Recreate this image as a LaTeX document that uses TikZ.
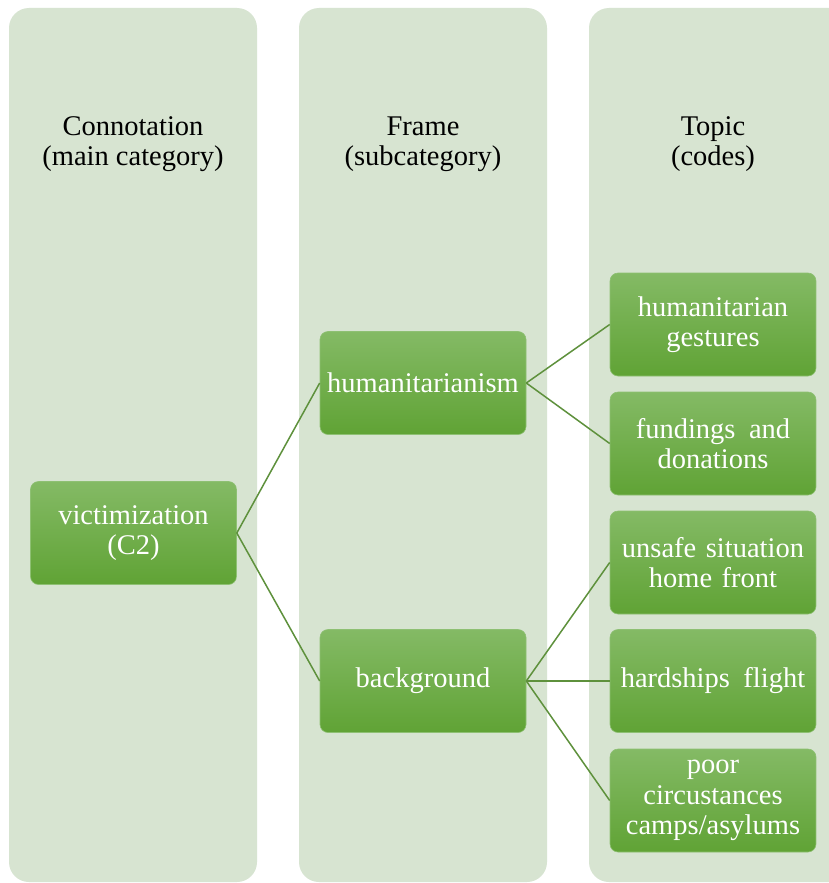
\documentclass[tikz,border=0pt]{standalone}
\usepackage{fontspec}
\setmainfont{Liberation Serif}
\definecolor{colfill}{HTML}{D7E4D1}
\definecolor{boxtop}{HTML}{84BA65}
\definecolor{boxbot}{HTML}{60A335}
\definecolor{boxedge}{HTML}{8EC073}
\definecolor{linkcol}{HTML}{5E913C}
\newcommand{\wsp}{\hspace{4pt}}
\begin{document}
\begin{tikzpicture}[x=1pt,y=-1pt,
  column/.style={fill=colfill,draw=none,rounded corners=20pt},
  header/.style={align=center,font=\fontsize{28.5}{30}\selectfont,text=black},
  item/.style={rectangle,rounded corners=8pt,top color=boxtop,bottom color=boxbot,
    draw=boxedge,line width=0.6pt,minimum width=206pt,minimum height=103pt,
    text width=200pt,align=center,inner sep=0pt,text=white,
    font=\fontsize{28.5}{30.5}\selectfont},
  link/.style={draw=linkcol,line width=1.5pt}]
\useasboundingbox (0,0) rectangle (828,883);
\fill[white] (0,0) rectangle (828,883);
% three column panels
\path[column] (9,8) rectangle (257,882);
\path[column] (299,8) rectangle (547,882);
\path[column] (589,8) rectangle (850,882);
% column headers
\node[header] (h1) at (133,144) {Connotation\\(main category)};
\node[header] (h2) at (423,144) {Frame\\(subcategory)};
\node[header] (h3) at (713,144) {Topic\\(codes)};
% category boxes
\node[item] (vic) at (133.5,533) {victimization\\(C2)};
\node[item] (hum) at (423,383) {humanitarianism};
\node[item] (bg) at (423,681) {background};
\node[item] (gest) at (713,324.5) {humanitarian\\gestures};
\node[item] (fund) at (713,443.5) {fundings\wsp{} and\\donations};
\node[item] (unsafe) at (713,562.5) {unsafe situation\\home front};
\node[item] (hard) at (713,681) {hardships\wsp{} flight};
\node[item] (poor) at (713,800.5) {poor\\circustances\\camps/asylums};
% connectors
\draw[link] (vic.east) -- (hum.west);
\draw[link] (vic.east) -- (bg.west);
\draw[link] (hum.east) -- (gest.west);
\draw[link] (hum.east) -- (fund.west);
\draw[link] (bg.east) -- (unsafe.west);
\draw[link] (bg.east) -- (hard.west);
\draw[link] (bg.east) -- (poor.west);
\end{tikzpicture}
\end{document}
